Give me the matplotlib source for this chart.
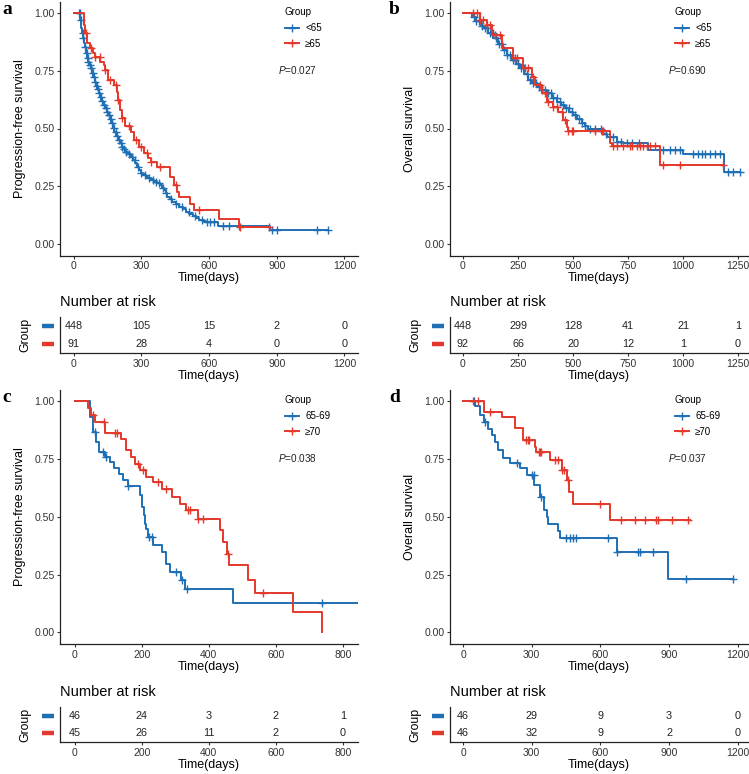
import numpy as np
import matplotlib
matplotlib.use("Agg")
import matplotlib.pyplot as plt
import matplotlib.transforms as mtransforms
from matplotlib.lines import Line2D

plt.rcParams['font.family'] = ['Liberation Sans', 'DejaVu Sans']
plt.rcParams['mathtext.fontset'] = 'custom'
plt.rcParams['mathtext.it'] = 'Liberation Sans:italic'
plt.rcParams['mathtext.rm'] = 'Liberation Sans'

BLUE = "#1f6fb4"
RED = "#e3382b"
W, H = 749, 774

# ---- panel a: PFS, <65 vs >=65 ----
a_lt65_t = [30, 34, 37, 42, 46, 49, 55, 59, 64, 70, 76, 82, 88, 94, 98, 104, 112, 117, 123, 131,
            138, 146, 153, 161, 168, 175, 181, 189, 196, 204, 213, 221, 230, 241, 253, 263, 272,
            281, 290, 299, 308, 320, 331, 343, 357, 370, 383, 394, 401, 409, 416, 427, 438, 453,
            468, 483, 498, 513, 528, 542, 557, 580, 639, 869]
a_lt65_s = [0.970, 0.934, 0.912, 0.890, 0.869, 0.854, 0.825, 0.804, 0.789, 0.775, 0.760, 0.742,
            0.724, 0.703, 0.684, 0.670, 0.652, 0.635, 0.619, 0.602, 0.587, 0.573, 0.558, 0.541,
            0.522, 0.504, 0.486, 0.468, 0.450, 0.436, 0.421, 0.410, 0.400, 0.390, 0.378, 0.364,
            0.349, 0.335, 0.320, 0.309, 0.299, 0.291, 0.284, 0.277, 0.270, 0.263, 0.255, 0.244,
            0.234, 0.219, 0.205, 0.193, 0.183, 0.173, 0.162, 0.150, 0.140, 0.130, 0.121, 0.113,
            0.104, 0.097, 0.079, 0.061]
a_lt65_end = 1129
a_lt65_cens = [25, 28, 33, 40, 44, 52, 58, 62, 66, 72, 78, 84, 90, 96, 102, 108, 114, 120, 128,
               135, 142, 150, 158, 165, 172, 180, 186, 192, 200, 208, 215, 222, 232, 245, 258, 270,
               285, 300, 318, 335, 350, 365, 380, 395, 410, 430, 455, 480, 510, 540, 570, 590, 605,
               620, 660, 690, 735, 877, 899, 1077, 1129]
a_ge65_t = [45, 49, 59, 74, 86, 97, 119, 134, 141, 153, 178, 193, 198, 204, 213, 227, 253, 268,
            290, 312, 330, 342, 371, 428, 446, 458, 468, 516, 535, 643, 732]
a_ge65_s = [0.948, 0.912, 0.869, 0.847, 0.825, 0.808, 0.789, 0.775, 0.753, 0.710, 0.688, 0.659,
            0.623, 0.580, 0.544, 0.511, 0.486, 0.450, 0.421, 0.393, 0.371, 0.354, 0.335, 0.291,
            0.255, 0.226, 0.202, 0.173, 0.147, 0.108, 0.075]
a_ge65_end = 866
a_ge65_cens = [55, 77, 97, 116, 141, 160, 186, 198, 215, 245, 275, 297, 327, 342, 383, 453, 554,
               736, 866]
a_breaks = [0, 300, 600, 900, 1200]
a_risk_lt65 = [448, 105, 15, 2, 0]
a_risk_ge65 = [91, 28, 4, 0, 0]

# ---- panel b: OS, <65 vs >=65 ----
b_lt65_t = [40, 60, 80, 92, 115, 138, 160, 183, 200, 221, 240, 259, 278, 297, 315, 335, 358, 380,
            403, 426, 445, 464, 483, 501, 520, 539, 555, 570, 632, 653, 699, 729, 840, 1001, 1185]
b_lt65_s = [0.985, 0.965, 0.945, 0.934, 0.912, 0.890, 0.865, 0.840, 0.820, 0.797, 0.778, 0.760,
            0.735, 0.710, 0.695, 0.681, 0.666, 0.652, 0.634, 0.616, 0.600, 0.587, 0.572, 0.558,
            0.540, 0.522, 0.510, 0.498, 0.478, 0.465, 0.443, 0.436, 0.407, 0.390, 0.310]
b_lt65_end = 1259
b_lt65_cens = [50, 60, 72, 85, 98, 110, 122, 135, 150, 162, 175, 188, 200, 212, 225, 238, 250,
               262, 275, 290, 305, 318, 330, 345, 358, 372, 385, 398, 410, 425, 440, 455, 468,
               482, 495, 510, 525, 540, 555, 575, 600, 625, 650, 680, 700, 720, 745, 770, 800,
               910, 940, 963, 986, 1047, 1070, 1085, 1100, 1123, 1145, 1168, 1206, 1229, 1259]
b_ge65_t = [77, 108, 130, 176, 229, 274, 312, 327, 358, 380, 411, 433, 456, 471, 479, 668, 676, 895]
b_ge65_s = [0.970, 0.948, 0.905, 0.847, 0.804, 0.760, 0.724, 0.688, 0.652, 0.616, 0.594, 0.573,
            0.537, 0.508, 0.489, 0.436, 0.425, 0.342]
b_ge65_end = 1183
b_ge65_cens = [47, 62, 77, 92, 108, 123, 145, 168, 236, 244, 282, 297, 320, 350, 373, 388, 411,
               426, 448, 464, 479, 494, 502, 600, 630, 638, 683, 699, 729, 759, 767, 789, 805,
               820, 835, 850, 873, 910, 986, 1183]
b_breaks = [0, 250, 500, 750, 1000, 1250]
b_risk_lt65 = [448, 299, 128, 41, 21, 1]
b_risk_ge65 = [92, 66, 20, 12, 1, 0]

# ---- panel c: PFS, 65-69 vs >=70 ----
c_6569_t = [45, 55, 64, 72, 90, 104, 116, 132, 144, 159, 194, 202, 206, 211, 214, 219, 234, 259,
            271, 284, 318, 328, 473]
c_6569_s = [0.932, 0.867, 0.824, 0.780, 0.759, 0.737, 0.709, 0.684, 0.658, 0.632, 0.593, 0.543,
            0.506, 0.470, 0.449, 0.413, 0.377, 0.348, 0.297, 0.261, 0.225, 0.189, 0.127]
c_6569_end = 846
c_6569_cens = [60, 85, 93, 159, 221, 229, 301, 321, 335, 739]
c_ge70_t = [40, 47, 60, 90, 139, 154, 169, 179, 194, 214, 234, 259, 289, 313, 333, 368, 433, 442,
            453, 461, 517, 537, 650, 739]
c_ge70_s = [0.968, 0.939, 0.910, 0.863, 0.834, 0.788, 0.759, 0.730, 0.701, 0.672, 0.651, 0.622,
            0.586, 0.557, 0.528, 0.492, 0.442, 0.391, 0.341, 0.290, 0.225, 0.170, 0.088, 0.0]
c_ge70_end = 739
c_ge70_cens = [53, 88, 119, 126, 189, 204, 249, 271, 338, 343, 368, 383, 456, 562]
c_breaks = [0, 200, 400, 600, 800]
c_risk_6569 = [46, 24, 3, 2, 1]
c_risk_ge70 = [45, 26, 11, 2, 0]

# ---- panel d: OS, 65-69 vs >=70 ----
d_6569_t = [52, 74, 93, 111, 128, 140, 154, 176, 205, 249, 278, 311, 336, 353, 365, 372, 413, 423,
            671, 896]
d_6569_s = [0.978, 0.939, 0.910, 0.881, 0.853, 0.824, 0.788, 0.752, 0.733, 0.709, 0.680, 0.636,
            0.586, 0.528, 0.499, 0.468, 0.439, 0.410, 0.348, 0.232]
d_6569_end = 1180
d_6569_cens = [46, 96, 234, 300, 310, 339, 451, 466, 480, 495, 634, 671, 765, 772, 831, 976, 1180]
d_ge70_t = [93, 169, 227, 260, 314, 320, 380, 431, 453, 464, 479, 641]
d_ge70_s = [0.954, 0.929, 0.882, 0.831, 0.802, 0.781, 0.745, 0.704, 0.658, 0.607, 0.554, 0.488]
d_ge70_end = 991
d_ge70_cens = [45, 67, 118, 276, 283, 290, 330, 335, 340, 402, 414, 431, 439, 458, 600, 692, 750,
               794, 845, 852, 913, 982]
d_breaks = [0, 300, 600, 900, 1200]
d_risk_6569 = [46, 29, 9, 3, 0]
d_risk_ge70 = [46, 32, 9, 2, 0]

y_ticks = [0, 0.25, 0.5, 0.75, 1.0]


def box(l, t, r, b):
    return [l / W, 1 - b / H, (r - l) / W, (b - t) / H]


def surv_at(times, surv, t):
    idx = np.searchsorted(times, t, side='right')
    return np.concatenate([[1.0], surv])[idx]


def style_axis(ax):
    for side in ['top', 'right']:
        ax.spines[side].set_visible(False)
    for side in ['left', 'bottom']:
        ax.spines[side].set_linewidth(0.9)
        ax.spines[side].set_color('#222222')
    ax.tick_params(length=2.2, width=0.8, color='#333333', labelsize=7.5,
                   labelcolor='#333333', pad=1.8)


def panel(fig, left, top, bottom, tab_top, tab_bottom, letter, ylabel, xlim, curves,
          labels, breaks, risks, ptext):
    ax = fig.add_axes(box(left, top, left + 298, bottom))
    for (t, s, end, cens), col in zip(curves, [BLUE, RED]):
        x = [0] + t + [end]
        y = [1.0] + s + [s[-1]]
        ax.step(x, y, where='post', color=col, lw=1.4)
        ax.plot(cens, surv_at(t, s, cens), ls='none', marker='+', ms=5.5, mew=1.0, color=col)
    ax.set_xlim(xlim)
    ax.set_ylim(-0.05, 1.05)
    ax.set_xticks(breaks)
    ax.set_yticks(y_ticks)
    ax.set_yticklabels(["%.2f" % v for v in y_ticks])
    style_axis(ax)
    ax.set_xlabel("Time(days)", fontsize=9, labelpad=1)
    ax.set_ylabel(ylabel, fontsize=9)
    ax.yaxis.set_label_coords(-0.113, 0.5)
    handles = [Line2D([], [], color=c, lw=1.4, marker='+', ms=5.5, mew=1.0) for c in [BLUE, RED]]
    ax.legend(handles, labels, title="Group", loc='upper left',
              bbox_to_anchor=(0.738, 0.997), frameon=False, fontsize=7,
              title_fontsize=7, borderpad=0, handlelength=1.5, handletextpad=0.6,
              labelspacing=0.6, alignment='left')
    ax.text(0.73, 0.73, ptext, transform=ax.transAxes, fontsize=7.2, va='center', ha='left',
            color='#222222')
    fig.text(2 / W if left < 300 else 389 / W, 1 - (top + 13) / H, letter, fontsize=14,
             fontweight='bold', family='Liberation Serif', va='baseline', ha='left')

    tab = fig.add_axes(box(left, tab_top, left + 298, tab_bottom))
    tab.set_xlim(xlim)
    tab.set_ylim(0.5, 2.5)
    tab.set_xticks(breaks)
    tab.set_yticks([])
    style_axis(tab)
    tab.set_xlabel("Time(days)", fontsize=9, labelpad=1)
    for row, vals in zip([2, 1], risks):
        for b, n in zip(breaks, vals):
            tab.text(b, row, str(n), ha='center', va='center', fontsize=7.8, color='#222222')
    tr = mtransforms.blended_transform_factory(tab.transAxes, tab.transData)
    for row, col in zip([2, 1], [BLUE, RED]):
        tab.plot([-0.06, -0.02], [row, row], color=col, lw=3.2, solid_capstyle='butt',
                 transform=tr, clip_on=False)
    tab.text(-0.117, 0.5, "Group", rotation=90, transform=tab.transAxes, fontsize=8.8,
             ha='center', va='center')
    tab.annotate("Number at risk", xy=(0, 1), xycoords='axes fraction', xytext=(0, 11),
                 textcoords='offset points', fontsize=10.5, va='center', ha='left')


fig = plt.figure(figsize=(W / 100, H / 100), dpi=100)

panel(fig, 60, 1.5, 255.5, 317, 353, 'a', "Progression-free survival", (-60, 1260),
      [(a_lt65_t, a_lt65_s, a_lt65_end, a_lt65_cens), (a_ge65_t, a_ge65_s, a_ge65_end, a_ge65_cens)],
      ["<65", "\u226565"], a_breaks, [a_risk_lt65, a_risk_ge65], "$P$=0.027")
panel(fig, 450, 1.5, 255.5, 317, 353, 'b', "Overall survival", (-59, 1295),
      [(b_lt65_t, b_lt65_s, b_lt65_end, b_lt65_cens), (b_ge65_t, b_ge65_s, b_ge65_end, b_ge65_cens)],
      ["<65", "\u226565"], b_breaks, [b_risk_lt65, b_risk_ge65], "$P$=0.690")
panel(fig, 60, 389.5, 644, 707, 742, 'c', "Progression-free survival", (-44, 845),
      [(c_6569_t, c_6569_s, c_6569_end, c_6569_cens), (c_ge70_t, c_ge70_s, c_ge70_end, c_ge70_cens)],
      ["65-69", "\u226570"], c_breaks, [c_risk_6569, c_risk_ge70], "$P$=0.038")
panel(fig, 450, 389.5, 644, 707, 742, 'd', "Overall survival", (-57, 1245),
      [(d_6569_t, d_6569_s, d_6569_end, d_6569_cens), (d_ge70_t, d_ge70_s, d_ge70_end, d_ge70_cens)],
      ["65-69", "\u226570"], d_breaks, [d_risk_6569, d_risk_ge70], "$P$=0.037")

fig.savefig("out.png", dpi=100)
